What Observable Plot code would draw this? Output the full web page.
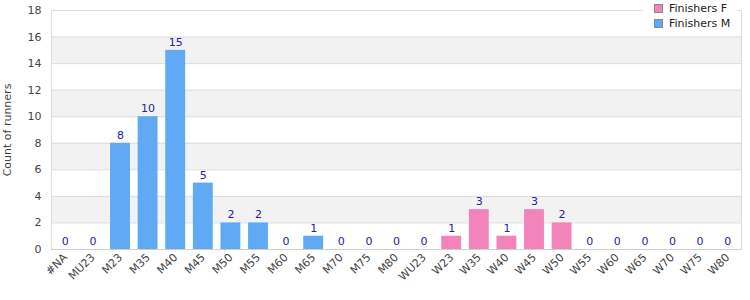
<!DOCTYPE html>
<html>
<head>
<meta charset="utf-8">
<script src="https://cdn.jsdelivr.net/npm/d3@7"></script>
<script src="https://cdn.jsdelivr.net/npm/@observablehq/plot@0.6"></script>
<style>
  body { margin: 0; background: #fff; font-family: "DejaVu Sans", Verdana, sans-serif; }
  #wrap { position: relative; width: 750px; height: 300px; }
  #legend { position: absolute; left: 643px; top: 0px; width: 94px; height: 34px; background: #fff; font-size: 11px; color: #222; }
  .item { position: absolute; left: 11px; display: flex; align-items: center; }
  .sw { width: 7px; height: 7px; border: 1px solid #888; margin-right: 6px; }
</style>
</head>
<body>
<div id="wrap"></div>
<script>
const categories = ["#NA","MU23","M23","M35","M40","M45","M50","M55","M60","M65","M70","M75","M80","WU23","W23","W35","W40","W45","W50","W55","W60","W65","W70","W75","W80"];
const values = [0,0,8,10,15,5,2,2,0,1,0,0,0,0,1,3,1,3,2,0,0,0,0,0,0];
const groups = ["M","M","M","M","M","M","M","M","M","M","M","M","M","F","F","F","F","F","F","F","F","F","F","F","F"];
const seriesNames = ["Finishers F","Finishers M"];
const seriesKeys = ["F","M"];
const seriesColors = ["#f283bb","#60a9f5"];
const yTicks = [0,2,4,6,8,10,12,14,16,18];
const bandStarts = [2,6,10,14];

const data = categories.map((c, i) => ({cat: c, value: values[i], group: groups[i]}));
const bands = bandStarts.map(s => ({y1: s, y2: s + 2}));

const chart = Plot.plot({
  width: 750,
  height: 300,
  marginTop: 10,
  marginBottom: 51,
  marginLeft: 51,
  marginRight: 9,
  style: {fontFamily: "DejaVu Sans, Verdana, sans-serif", fontSize: "11px", color: "#444", background: "#fff"},
  x: {domain: categories, paddingInner: 0.28, paddingOuter: 0.14, round: false, label: null, tickRotate: -45, tickSize: 0, tickPadding: 6},
  y: {domain: [0, 18], ticks: yTicks, label: "Count of runners", labelArrow: "none", labelAnchor: "center", labelOffset: 48, tickSize: 0, tickPadding: 10},
  color: {domain: seriesKeys, range: seriesColors},
  marks: [
    Plot.rect(bands, {y1: "y1", y2: "y2", fill: "#f2f2f2"}),
    Plot.gridY(yTicks, {stroke: "#dcdcdc", strokeOpacity: 1}),
    Plot.frame({stroke: "#dcdcdc"}),
    Plot.barY(data, {x: "cat", y: "value", fill: "group", insetLeft: 0, insetRight: 0}),
    Plot.ruleY([0], {stroke: "#cfcfcf"}),
    Plot.text(data, {x: "cat", y: "value", text: d => String(d.value), dy: -8, fill: "#22229a", fontSize: 11})
  ]
});
const wrap = document.getElementById("wrap");
wrap.appendChild(chart);

const legend = document.createElement("div");
legend.id = "legend";
seriesNames.forEach((name, i) => {
  const it = document.createElement("div");
  it.className = "item";
  it.style.top = (2 + i * 15) + "px";
  const sw = document.createElement("div");
  sw.className = "sw";
  sw.style.background = seriesColors[i];
  const tx = document.createElement("span");
  tx.textContent = name;
  it.appendChild(sw); it.appendChild(tx);
  legend.appendChild(it);
});
wrap.appendChild(legend);
</script>
</body>
</html>
